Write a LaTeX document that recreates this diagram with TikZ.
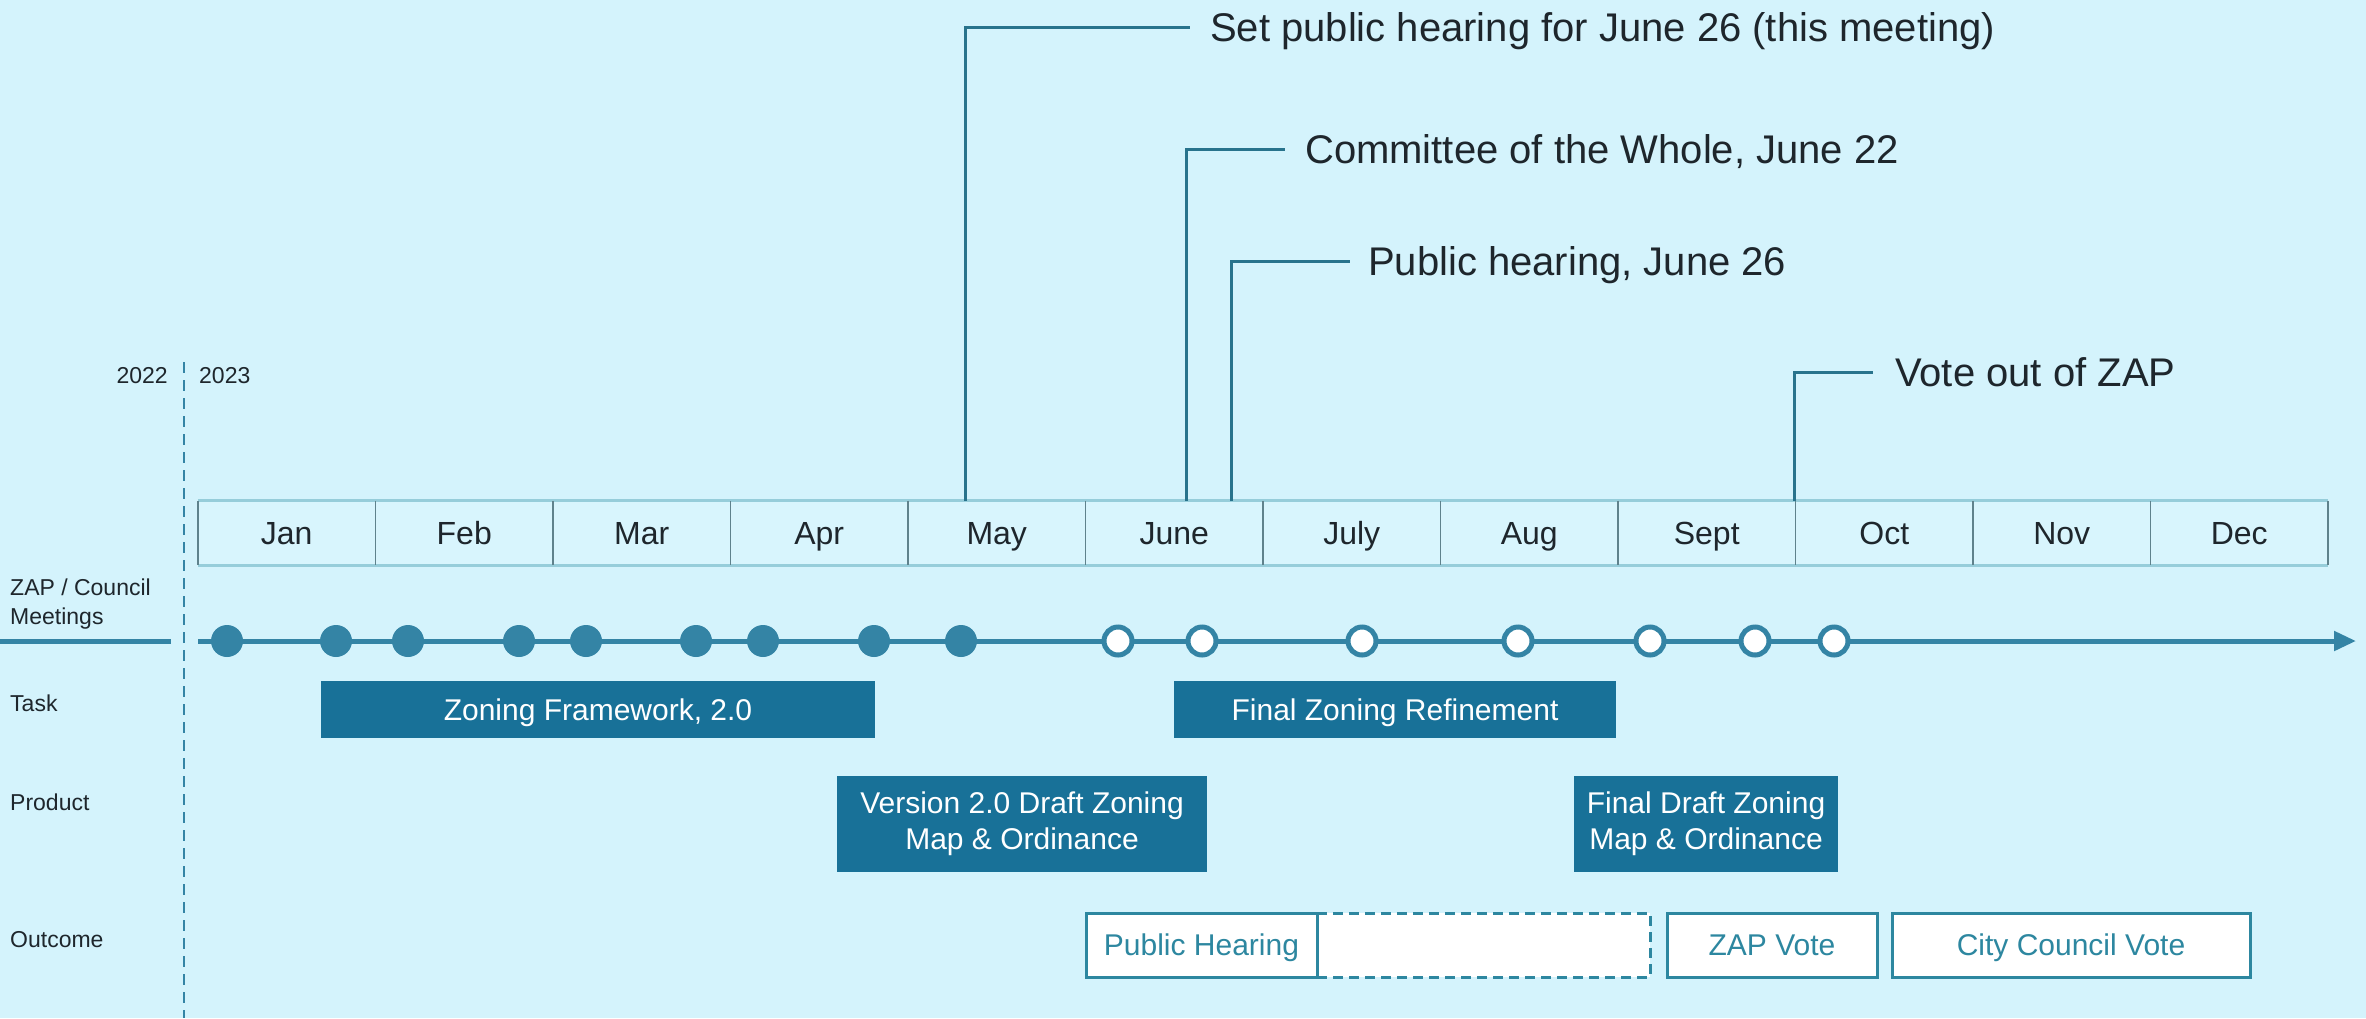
\documentclass[tikz,border=0pt]{standalone}
\usepackage{fontspec}
\setmainfont{Liberation Sans}
\usetikzlibrary{arrows.meta}
\definecolor{bg}{RGB}{212,243,252}
\definecolor{bar}{RGB}{24,113,152}
\definecolor{dot}{RGB}{52,132,165}
\definecolor{callline}{RGB}{40,115,140}
\definecolor{ink}{RGB}{30,38,44}
\definecolor{mline}{RGB}{150,205,218}
\definecolor{mdiv}{RGB}{95,130,140}
\definecolor{outc}{RGB}{45,135,160}
\definecolor{mfill}{RGB}{216,245,253}
\tikzset{
  month/.style={fill=mfill, minimum width=177.5pt, minimum height=64pt, inner sep=0pt,
    font=\fontsize{32}{38}\selectfont, text=ink, text height=23pt, text depth=0pt},
  fdot/.style={circle, fill=dot, minimum size=32pt, inner sep=0pt},
  odot/.style={circle, fill=white, draw=dot, line width=5pt, minimum size=28pt, inner sep=0pt},
  prodbar/.style={fill=bar, text=white, inner sep=0pt, font=\fontsize{30}{36}\selectfont, align=center},
  taskbar/.style={prodbar, text height=21.5pt, text depth=0pt},
  outbox/.style={fill=white, draw=outc, line width=3pt, inner sep=0pt, text=outc,
    font=\fontsize{30}{36}\selectfont, minimum height=64pt, text height=21.5pt, text depth=0pt},
  callout/.style={anchor=west, inner sep=0pt, text=ink, font=\fontsize{40}{48}\selectfont,
    text height=29pt, text depth=0pt},
  calline/.style={draw=callline, line width=3pt},
  small/.style={inner sep=0pt, text=ink, font=\fontsize{23}{29}\selectfont},
  yeardiv/.style={draw=dot, line width=2.5pt, dash pattern=on 11pt off 7pt}
}
\begin{document}
\begin{tikzpicture}[x=1pt,y=-1pt]
\fill[bg] (0,0) rectangle (2366,1018);
\useasboundingbox (0,0) rectangle (2366,1018);

% year divider
\coordinate (ydt) at (184,362);
\coordinate (ydb) at (184,1018);
\draw[yeardiv] (ydt) -- (ydb);
\node[small, anchor=east, text height=16pt, text depth=0pt] (y22) at (168,375) {2022};
\node[small, anchor=west, text height=16pt, text depth=0pt] (y23) at (199,375) {2023};

% months
\foreach \m [count=\i from 0] in {Jan,Feb,Mar,Apr,May,June,July,Aug,Sept,Oct,Nov,Dec}{
  \node[month] (m\i) at ({286.75+177.5*\i},533) {\m};
}
\draw[mline, line width=3pt] (m0.north west) -- (m11.north east);
\draw[mline, line width=3pt] (m0.south west) -- (m11.south east);
\draw[mdiv, line width=1.5pt] (m0.north west) -- (m0.south west);
\foreach \i in {0,...,11}{
  \draw[mdiv, line width=1.5pt] (m\i.north east) -- (m\i.south east);
}

% row labels
\node[small, anchor=west, align=left] (lzap) at (10,604) {ZAP / Council\\Meetings};
\node[small, anchor=west] (ltask) at (10,703) {Task};
\node[small, anchor=west] (lprod) at (10,802) {Product};
\node[small, anchor=west] (lout) at (10,940) {Outcome};

% axis
\coordinate (axL) at (0,641);
\coordinate (axLe) at (171,641);
\coordinate (axS) at (198,641);
\coordinate (axE) at (2356,641);
\draw[dot, line width=5pt] (axL) -- (axLe);
\draw[dot, line width=5pt, -{Triangle[length=22pt,width=19pt]}] (axS) -- (axE);

\foreach \x [count=\i] in {227,336,408,519,586,696,763,874,961}{
  \node[fdot] (f\i) at (\x,641) {};
}
\foreach \x [count=\i] in {1118,1202,1362,1518,1650,1755,1834}{
  \node[odot] (o\i) at (\x,641) {};
}

% tasks
\node[taskbar, minimum width=554pt, minimum height=57pt] (t1) at (598,709.5) {Zoning Framework, 2.0};
\node[taskbar, minimum width=442pt, minimum height=57pt] (t2) at (1395,709.5) {Final Zoning Refinement};

% products
\node[prodbar, minimum width=370pt, minimum height=96pt] (p1) at (1022,824) {Version 2.0 Draft Zoning\\Map \& Ordinance};
\node[prodbar, minimum width=264pt, minimum height=96pt] (p2) at (1706,824) {Final Draft Zoning\\Map \& Ordinance};

% outcomes
\node[outbox, minimum width=333pt, dash pattern=on 10pt off 6pt] (odash) at (1483.5,945) {};
\node[outbox, minimum width=231pt] (oph) at (1201.5,945) {Public Hearing};
\node[outbox, minimum width=210pt] (ozap) at (1772,945) {ZAP Vote};
\node[outbox, minimum width=358pt] (ocity) at (2071,945) {City Council Vote};

% callouts
\node[callout] (c1) at (1210,27) {Set public hearing for June 26 (this meeting)};
\node[callout] (c2) at (1305,149) {Committee of the Whole, June 22};
\node[callout] (c3) at (1368,261) {Public hearing, June 26};
\node[callout] (c4) at (1895,372) {Vote out of ZAP};
\coordinate (c1b) at (965,501);
\coordinate (c2b) at (1186,501);
\coordinate (c3b) at (1231,501);
\coordinate (c4b) at (1794,501);
\draw[calline] (c1b) |- ([xshift=-20pt]c1.west);
\draw[calline] (c2b) |- ([xshift=-20pt]c2.west);
\draw[calline] (c3b) |- ([xshift=-18pt]c3.west);
\draw[calline] (c4b) |- ([xshift=-22pt]c4.west);
\end{tikzpicture}
\end{document}
